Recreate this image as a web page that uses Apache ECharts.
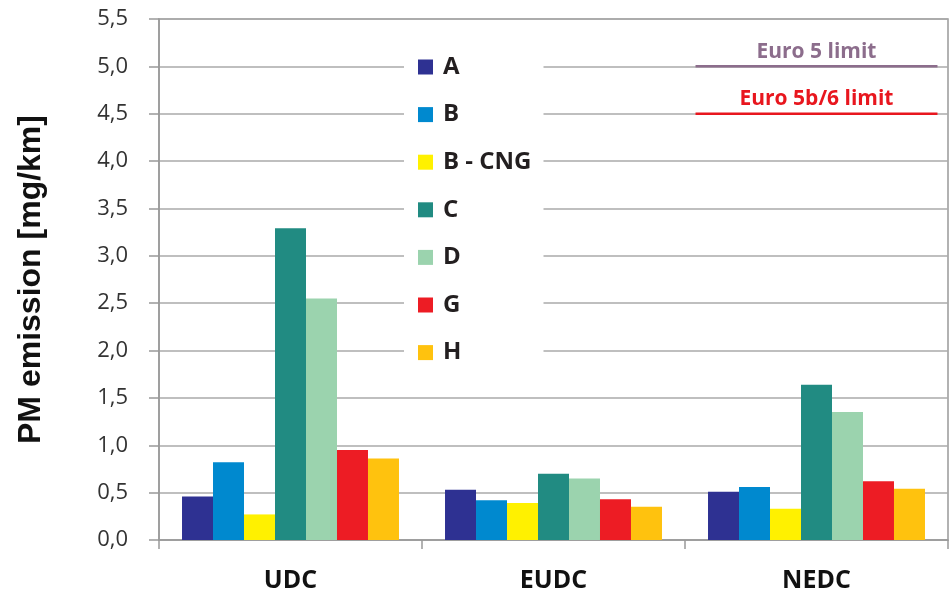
<!DOCTYPE html>
<html>
<head>
<meta charset="utf-8">
<script src="https://cdn.jsdelivr.net/npm/echarts@6/dist/echarts.min.js"></script>
<style>html,body{margin:0;padding:0;background:#fff}#c{width:951px;height:597px}</style>
</head>
<body>
<div id="c"></div>
<script>
// ---- data ----
var categories = ['UDC', 'EUDC', 'NEDC'];
var seriesNames = ['A', 'B', 'B - CNG', 'C', 'D', 'G', 'H'];
var valuesA = [0.46, 0.53, 0.51];
var valuesB = [0.82, 0.42, 0.56];
var valuesBCNG = [0.27, 0.39, 0.33];
var valuesC = [3.29, 0.70, 1.64];
var valuesD = [2.55, 0.65, 1.35];
var valuesG = [0.95, 0.43, 0.62];
var valuesH = [0.86, 0.35, 0.54];
var yTicks = [0, 0.5, 1, 1.5, 2, 2.5, 3, 3.5, 4, 4.5, 5, 5.5];
var limitNames = ['Euro 5 limit', 'Euro 5b/6 limit'];
var limitValues = [5.0, 4.5];
var limitSpan = [2.04, 2.5, 2.96]; // position along the category range (0..3)

var allValues = [valuesA, valuesB, valuesBCNG, valuesC, valuesD, valuesG, valuesH];
var colors = ['#2E3192', '#0089CF', '#FFF100', '#218B82', '#9BD3AE', '#ED1C24', '#FFC20E'];
var limitColors = ['#8C6D8C', '#E8161E'];

var chart = echarts.init(document.getElementById('c'), null, {renderer: 'canvas'});
var FONT = 'Open Sans';

var series = seriesNames.map(function (n, i) {
  return {
    name: n, type: 'bar', xAxisIndex: 0, yAxisIndex: 0,
    data: allValues[i],
    barGap: '0%', barCategoryGap: '17.5%',
    itemStyle: {color: colors[i]},
    z: 3
  };
});

limitNames.forEach(function (ln, k) {
  series.push({
    name: ln, type: 'line', xAxisIndex: 1, yAxisIndex: 0,
    symbol: 'none', silent: true, z: 4,
    lineStyle: {color: limitColors[k], width: 2.5},
    data: [[limitSpan[0], limitValues[k]], [limitSpan[2], limitValues[k]]]
  });
  series.push({
    name: ln + ' label', type: 'scatter', xAxisIndex: 1, yAxisIndex: 0,
    symbolSize: 0, silent: true, z: 4,
    itemStyle: {color: limitColors[k], opacity: 1},
    labelLayout: {hideOverlap: false},
    label: {
      show: true, position: 'top', distance: 4,
      formatter: ln, color: limitColors[k],
      fontFamily: FONT, fontWeight: 'bold', fontSize: 21
    },
    data: [[limitSpan[1], limitValues[k]]]
  });
});

chart.setOption({
  animation: false,
  backgroundColor: '#fff',
  grid: {left: 159, right: 3, top: 19, bottom: 57, show: true, borderColor: '#999', borderWidth: 1.5, backgroundColor: 'transparent'},
  legend: {
    data: seriesNames,
    orient: 'vertical',
    left: 404, top: 35,
    padding: [20, 12, 20, 14],
    backgroundColor: '#fff',
    icon: 'rect', itemWidth: 15, itemHeight: 15, itemGap: 23.6,
    textStyle: {fontFamily: FONT, fontWeight: 'bold', fontSize: 24, lineHeight: 20, color: '#231F20', padding: [0, 0, 0, 5]},
    z: 5
  },
  xAxis: [{
    type: 'category', data: categories,
    axisLine: {lineStyle: {color: '#999', width: 1.5}},
    axisTick: {show: true, length: 9, lineStyle: {color: '#999', width: 1.5}},
    axisLabel: {fontFamily: FONT, fontWeight: 'bold', fontSize: 25, color: '#111', margin: 28},
    splitLine: {show: false}
  }, {
    type: 'value', min: 0, max: 3, show: false
  }],
  yAxis: [{
    type: 'value', min: yTicks[0], max: yTicks[yTicks.length - 1], interval: 0.5,
    name: 'PM emission [mg/km]', nameLocation: 'middle', nameGap: 112,
    nameTextStyle: {fontFamily: 'Liberation Sans', fontWeight: 'bold', fontSize: 32, color: '#111'},
    axisLine: {show: true, lineStyle: {color: '#999', width: 1.5}},
    axisTick: {show: true, length: 10, lineStyle: {color: '#999', width: 1.5}},
    axisLabel: {
      fontFamily: FONT, fontSize: 22, color: '#333', margin: 31,
      formatter: function (v) { return v.toFixed(1).replace('.', ','); }
    },
    splitLine: {lineStyle: {color: '#aaa', width: 1.5}}
  }],
  series: series
});
</script>
</body>
</html>
